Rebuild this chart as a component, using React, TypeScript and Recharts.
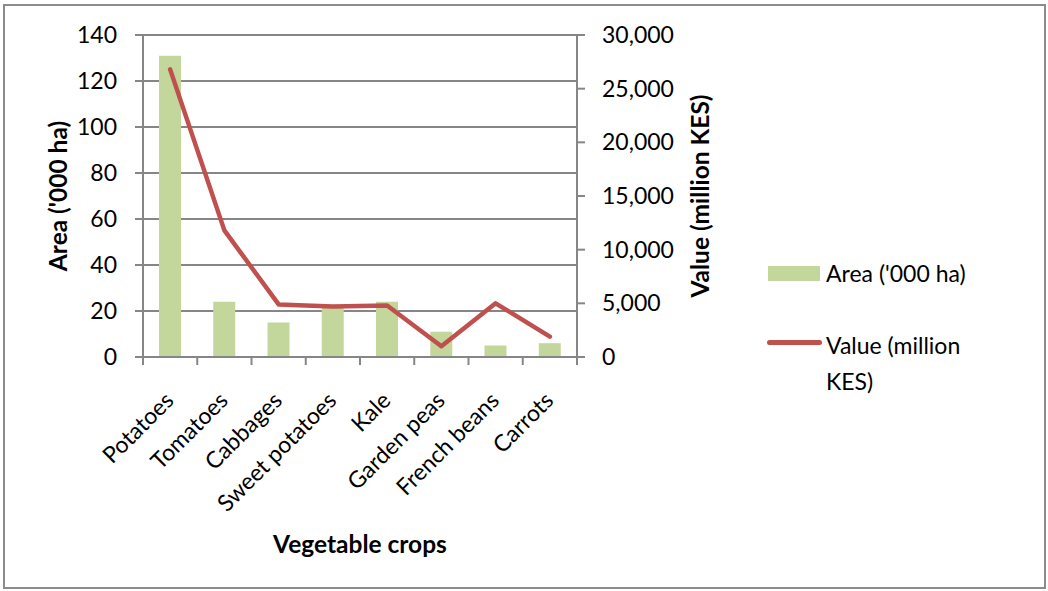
import React from 'react';
import { ComposedChart, Bar, Line, XAxis, YAxis, CartesianGrid, Legend, Label } from 'recharts';

const categories = ['Potatoes', 'Tomatoes', 'Cabbages', 'Sweet potatoes', 'Kale', 'Garden peas', 'French beans', 'Carrots'];
const areaValues = [131, 24, 15, 22, 24, 11, 5, 6];
const valueValues = [26800, 11800, 4900, 4700, 4800, 1000, 5000, 1900];
const leftTicks = [0, 20, 40, 60, 80, 100, 120, 140];
const rightTicks = [0, 5000, 10000, 15000, 20000, 25000, 30000];

const data = categories.map((c, i) => ({ name: c, area: areaValues[i], value: valueValues[i] }));

const FONT = 'Lato, "Open Sans", sans-serif';
const GRID = '#868686';
const BAR = '#C3D69B';
const LINE = '#C0504D';
const FS = 23;
const TFS = 24.5;

const fmt = (v: number) => v.toLocaleString('en-US');

const XTick = (props: any) => {
  const { x, y, payload, index, visibleTicksCount } = props;
  const half = payload && typeof payload.offset === 'number' && payload.offset > 0 ? payload.offset : 27.125;
  const tx = x + 5;
  const ty = y + 45;
  return (
    <g>
      <line x1={x - half} x2={x - half} y1={y} y2={y + 8} stroke={GRID} strokeWidth={2} />
      {index === visibleTicksCount - 1 && (
        <line x1={x + half} x2={x + half} y1={y} y2={y + 8} stroke={GRID} strokeWidth={2} />
      )}
      <text
        x={tx}
        y={ty}
        textAnchor="end"
        transform={`rotate(-45, ${tx}, ${ty})`}
        fontFamily={FONT}
        fontSize={FS}
        fill="#000"
      >
        {payload.value}
      </text>
    </g>
  );
};

const XTitle = (props: any) => {
  const vb = props.viewBox || {};
  return (
    <text x={vb.x + vb.width / 2} y={vb.y + 196} textAnchor="middle" fontFamily={FONT} fontWeight="bold" fontSize={TFS} fill="#000">
      Vegetable crops
    </text>
  );
};

const LeftTitle = (props: any) => {
  const vb = props.viewBox || {};
  const cx = vb.x + 57;
  const cy = vb.y + vb.height / 2;
  return (
    <text x={cx} y={cy} textAnchor="middle" dominantBaseline="central" transform={`rotate(-90, ${cx}, ${cy})`} fontFamily={FONT} fontWeight="bold" fontSize={TFS} fill="#000">
      Area ('000 ha)
    </text>
  );
};

const RightTitle = (props: any) => {
  const vb = props.viewBox || {};
  const cx = vb.x + 122;
  const cy = vb.y + vb.height / 2;
  return (
    <text x={cx} y={cy} textAnchor="middle" dominantBaseline="central" transform={`rotate(-90, ${cx}, ${cy})`} fontFamily={FONT} fontWeight="bold" fontSize={TFS} fill="#000">
      Value (million KES)
    </text>
  );
};

const LegendContent = () => (
  <div style={{ position: 'relative', width: 1048, height: 591, fontFamily: FONT, fontSize: FS, color: '#000', pointerEvents: 'none' }}>
    <div style={{ position: 'absolute', left: 768, top: 266, width: 52, height: 15, background: BAR }} />
    <div style={{ position: 'absolute', left: 826, top: 258, lineHeight: '30px', whiteSpace: 'nowrap' }}>Area ('000 ha)</div>
    <div style={{ position: 'absolute', left: 767, top: 340, width: 55, height: 5, borderRadius: 3, background: LINE }} />
    <div style={{ position: 'absolute', left: 826, top: 327, lineHeight: '36px', width: 160 }}>
      Value (million
      <br />
      KES)
    </div>
  </div>
);

export default function App() {
  return (
    <div style={{ position: 'absolute', left: 0, top: 0, width: 1048, height: 591, background: '#fff' }}>
      <div style={{ position: 'absolute', left: 3, top: 4, width: 1043, height: 585, border: '2px solid #8c8c8c', boxSizing: 'border-box' }} />
      <div style={{ position: 'absolute', left: 0, top: 0 }}>
        <ComposedChart
          width={1048}
          height={591}
          data={data}
          margin={{ top: 35, left: 0, right: 271, bottom: 34 }}
        >
          <CartesianGrid yAxisId="left" vertical={false} horizontal stroke={GRID} strokeWidth={2} />
          <XAxis
            dataKey="name"
            xAxisId={0}
            height={200}
            interval={0}
            tickLine={false}
            tickSize={0}
            tickMargin={0}
            axisLine={{ stroke: GRID, strokeWidth: 2 }}
            tick={<XTick />}
          >
            <Label content={<XTitle />} />
          </XAxis>
          <YAxis
            yAxisId="left"
            orientation="left"
            width={143}
            domain={[0, 140]}
            ticks={leftTicks}
            interval={0}
            allowDataOverflow
            tickSize={8}
            tickMargin={18}
            tickLine={{ stroke: GRID, strokeWidth: 2 }}
            axisLine={{ stroke: GRID, strokeWidth: 2 }}
            tick={{ fill: '#000', fontFamily: FONT, fontSize: FS }}
          >
            <Label content={<LeftTitle />} />
          </YAxis>
          <YAxis
            yAxisId="right"
            orientation="right"
            width={200}
            domain={[0, 30000]}
            ticks={rightTicks}
            interval={0}
            allowDataOverflow
            tickSize={8}
            tickMargin={17}
            tickFormatter={fmt}
            tickLine={{ stroke: GRID, strokeWidth: 2 }}
            axisLine={{ stroke: GRID, strokeWidth: 2 }}
            tick={{ fill: '#000', fontFamily: FONT, fontSize: FS, textAnchor: 'start' }}
          >
            <Label content={<RightTitle />} />
          </YAxis>
          <Bar yAxisId="left" dataKey="area" name="Area ('000 ha)" fill={BAR} barSize={22} isAnimationActive={false} />
          <Line
            yAxisId="right"
            type="linear"
            dataKey="value"
            name="Value (million KES)"
            stroke={LINE}
            strokeWidth={4.5}
            strokeLinecap="round"
            strokeLinejoin="round"
            dot={false}
            activeDot={false}
            isAnimationActive={false}
          />
          <Legend
            layout="vertical"
            align="center"
            verticalAlign="middle"
            content={<LegendContent />}
            wrapperStyle={{ position: 'absolute', left: 0, top: 0, width: 1048, height: 591, pointerEvents: 'none' }}
          />
        </ComposedChart>
      </div>
    </div>
  );
}
